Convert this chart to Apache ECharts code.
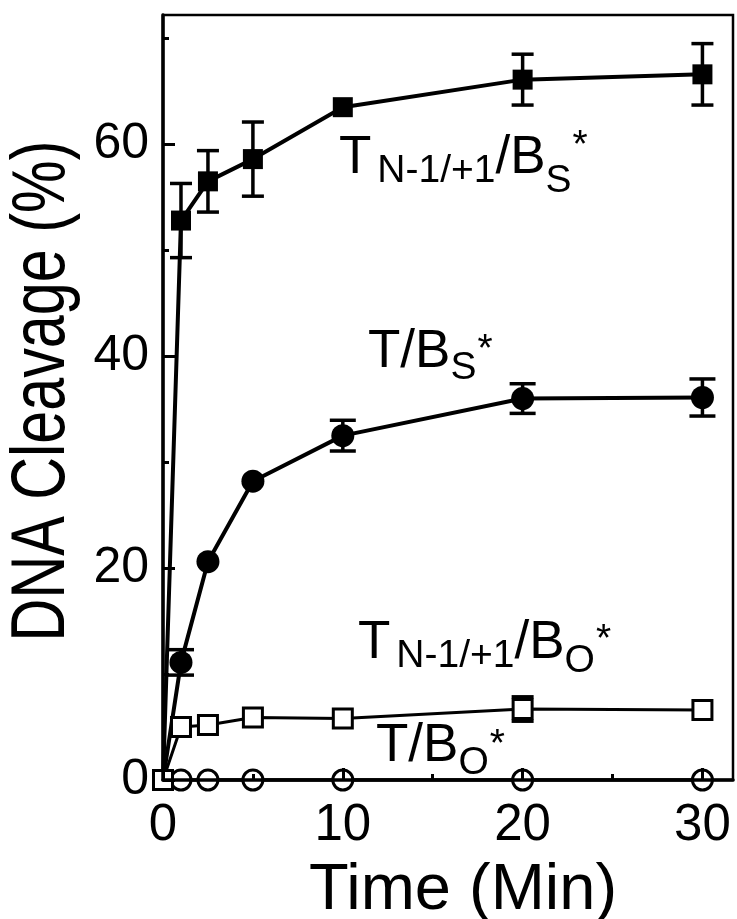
<!DOCTYPE html>
<html>
<head>
<meta charset="utf-8">
<script src="https://cdn.jsdelivr.net/npm/echarts@6/dist/echarts.min.js"></script>
<style>
  html, body { margin: 0; padding: 0; background: #fff; }
  #main { width: 737px; height: 919px; }
</style>
</head>
<body>
<div id="main"></div>
<script>
var FONT = '"Liberation Sans", Arial, sans-serif';

// data
var times = [0, 1, 2.5, 5, 10, 20, 30];
var tnBs = [0, 52.8, 56.5, 58.6, 63.5, 66.1, 66.6];
var tnBsErr = [0, 3.5, 2.9, 3.5, 0, 2.4, 2.9];
var tBs = [0, 11.1, 20.6, 28.2, 32.5, 36.0, 36.1];
var tBsErr = [0, 1.2, 0, 0, 1.45, 1.4, 1.75];
var tnBo = [0, 5.0, 5.2, 5.9, 5.8, 6.7, 6.6];
var tnBoErr = [0, 0, 0, 0, 0, 1.15, 0];
var tBo = [0, 0, 0, 0, 0, 0, 0];

var xTicks = [0, 10, 20, 30];
var xMinor = [5, 15, 25];
var yTicks = [0, 20, 40, 60];
var yMinor = [10, 30, 50, 70];

var myChart = echarts.init(document.getElementById('main'));

function pts(ys, hideOrigin) {
  return times.map(function (t, i) {
    if (i === 0 && hideOrigin) return { value: [t, ys[i]], symbol: 'none' };
    return [t, ys[i]];
  });
}

function errSeries(ys, errs, cap, z) {
  var data = [];
  times.forEach(function (t, i) {
    if (errs[i] > 0) data.push([t, ys[i] - errs[i], ys[i] + errs[i]]);
  });
  return {
    type: 'custom',
    z: z,
    silent: true,
    data: data,
    encode: { x: 0, y: [1, 2] },
    renderItem: function (params, api) {
      var lo = api.coord([api.value(0), api.value(1)]);
      var hi = api.coord([api.value(0), api.value(2)]);
      var h = cap / 2;
      var st = { stroke: '#000', lineWidth: 3.5 };
      return {
        type: 'group',
        children: [
          { type: 'line', shape: { x1: lo[0], y1: lo[1], x2: hi[0], y2: hi[1] }, style: st },
          { type: 'line', shape: { x1: lo[0] - h, y1: lo[1], x2: lo[0] + h, y2: lo[1] }, style: st },
          { type: 'line', shape: { x1: hi[0] - h, y1: hi[1], x2: hi[0] + h, y2: hi[1] }, style: st }
        ]
      };
    }
  };
}

// text with sub/superscripts, pieces laid out one after another
var ctx = document.createElement('canvas').getContext('2d');
function tw(s, size) {
  ctx.font = size + 'px ' + FONT;
  return ctx.measureText(s).width;
}
function txt(x, y, s, size, align, extra) {
  var el = {
    type: 'text', x: x, y: y,
    style: {
      text: s, font: size + 'px ' + FONT, fill: '#000',
      align: align, verticalAlign: 'middle',
      textAlign: align, textVerticalAlign: 'middle'
    }
  };
  for (var k in extra) el[k] = extra[k];
  return el;
}
function annot(x, base, parts) {
  var els = [];
  parts.forEach(function (p) {
    var size = p[1];
    x += p[3] || 0;
    els.push(txt(x, base + p[2] - 0.347 * size, p[0], size, 'left'));
    x += tw(p[0], size);
  });
  return els;
}

var graphics = [].concat(
  annot(339, 177, [['T', 53, 0], ['N-1/+1', 39, 8, 6], ['/B', 53, 0], ['S', 39, 18], ['*', 39, -17, 1]]),
  annot(368, 371, [['T/B', 53, 0], ['S', 39, 11], ['*', 39, -7, 1]]),
  annot(358, 662, [['T', 53, 0], ['N-1/+1', 39, 8, 6], ['/B', 53, 0], ['O', 39, 13], ['*', 39, -8, 1]]),
  annot(376, 765, [['T/B', 53, 0], ['O', 39, 12], ['*', 39, -6, 1]]),
  [
    txt(43.5, 391, 'DNA Cleavage (%)', 76, 'center', { rotation: Math.PI / 2, scaleX: 0.78 }),
    txt(463, 868 + 0.358 * 65, 'Time (Min)', 65, 'center')
  ]
);

var option = {
  animation: false,
  backgroundColor: '#fff',
  grid: {
    left: 163, right: 4, top: 15, bottom: 139,
    containLabel: false, outerBoundsMode: 'none',
    show: true, borderColor: '#000', borderWidth: 2.5,
    backgroundColor: 'transparent'
  },
  xAxis: [
    {
      type: 'value', min: 0, max: 31.7, position: 'bottom', z: 10,
      axisLine: { onZero: false, lineStyle: { color: '#000', width: 3.5 } },
      axisTick: { inside: true, length: 12, customValues: xTicks, lineStyle: { color: '#000', width: 3 } },
      axisLabel: { customValues: xTicks, fontSize: 51, fontFamily: FONT, color: '#000', margin: 20 },
      splitLine: { show: false }
    },
    {
      type: 'value', min: 0, max: 31.7, position: 'bottom', z: 10,
      axisLine: { show: false },
      axisTick: { inside: true, length: 6, customValues: xMinor, lineStyle: { color: '#000', width: 3 } },
      axisLabel: { show: false },
      splitLine: { show: false }
    }
  ],
  yAxis: [
    {
      type: 'value', min: 0, max: 72.2, position: 'left', z: 10,
      axisLine: { onZero: false, lineStyle: { color: '#000', width: 3.5 } },
      axisTick: { inside: true, length: 12, customValues: yTicks, lineStyle: { color: '#000', width: 3 } },
      axisLabel: { customValues: yTicks, fontSize: 50, fontFamily: FONT, color: '#000', margin: 14 },
      splitLine: { show: false }
    },
    {
      type: 'value', min: 0, max: 72.2, position: 'left', z: 10,
      axisLine: { show: false },
      axisTick: { inside: true, length: 6, customValues: yMinor, lineStyle: { color: '#000', width: 3 } },
      axisLabel: { show: false },
      splitLine: { show: false }
    }
  ],
  graphic: graphics,
  series: [
    errSeries(tnBs, tnBsErr, 22, 1),
    errSeries(tBs, tBsErr, 26, 1),
    errSeries(tnBo, tnBoErr, 22, 1),
    {
      name: 'T/BO*', type: 'line', z: 3,
      data: pts(tBo, true),
      symbol: 'circle', symbolSize: 20,
      itemStyle: { color: '#fff', borderColor: '#000', borderWidth: 3 },
      lineStyle: { color: '#000', width: 3.5 }
    },
    {
      name: 'TN-1/+1/BS*', type: 'line', z: 2,
      data: pts(tnBs, true),
      symbol: 'rect', symbolSize: 20,
      itemStyle: { color: '#000' },
      lineStyle: { color: '#000', width: 4 }
    },
    {
      name: 'T/BS*', type: 'line', z: 2,
      data: pts(tBs, true),
      symbol: 'circle', symbolSize: 23,
      itemStyle: { color: '#000' },
      lineStyle: { color: '#000', width: 4 }
    },
    {
      name: 'TN-1/+1/BO*', type: 'line', z: 4,
      data: pts(tnBo, false),
      symbol: 'rect', symbolSize: 19,
      itemStyle: { color: '#fff', borderColor: '#000', borderWidth: 3 },
      lineStyle: { color: '#000', width: 3 }
    }
  ]
};

myChart.setOption(option);
</script>
</body>
</html>
